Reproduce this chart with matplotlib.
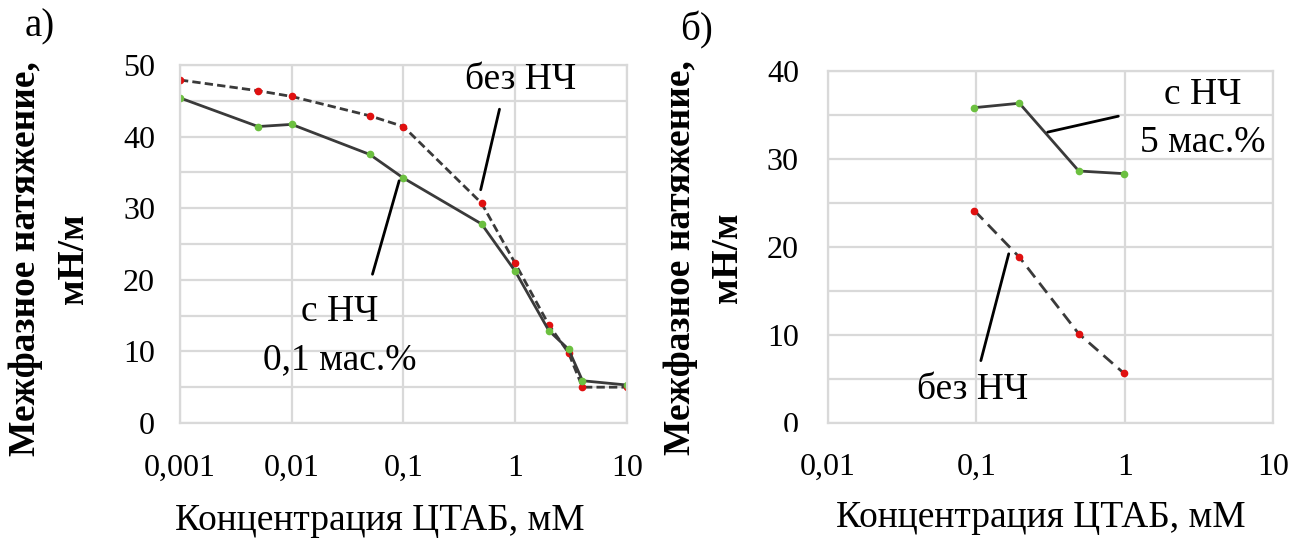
import numpy as np
import matplotlib
matplotlib.use("Agg")
import matplotlib.pyplot as plt
from matplotlib.patches import Rectangle
from matplotlib.ticker import FixedLocator, FuncFormatter, MultipleLocator

plt.rcParams["font.family"] = ["Liberation Serif", "DejaVu Serif"]

# а) CTAB concentration, mM, and interfacial tension, mN/m
conc_a = [0.001, 0.005, 0.01, 0.05, 0.1, 0.5, 1, 2, 3, 4, 10]
tension_a_no_np = [47.9, 46.4, 45.6, 42.9, 41.4, 30.7, 22.3, 13.7, 9.8, 5.0, 5.0]
tension_a_np = [45.4, 41.4, 41.7, 37.5, 34.2, 27.8, 21.2, 12.9, 10.3, 5.9, 5.3]

# б) same system, 5 wt.% nanoparticles
conc_b = [0.097, 0.195, 0.49, 0.99]
tension_b_np = [35.8, 36.3, 28.6, 28.3]
tension_b_no_np = [24.1, 18.8, 10.1, 5.6]

xticks_a = [0.001, 0.01, 0.1, 1, 10]
xticks_b = [0.01, 0.1, 1, 10]

grid_color = "#d9d9d9"
line_color = "#3a3a3a"
red = "#e01010"
green = "#6cc040"

ylabel = "Межфазное натяжение,\nмН/м"
xlabel = "Концентрация ЦТАБ, мМ"


def comma(v, pos):
    s = f"{v:g}"
    return s.replace(".", ",")


def style_axes(ax, xticks, ymax, ypad):
    ax.set_xscale("log")
    ax.set_xlim(xticks[0], xticks[-1])
    ax.set_ylim(0, ymax)
    ax.xaxis.set_major_locator(FixedLocator(xticks))
    ax.xaxis.set_minor_locator(FixedLocator([]))
    ax.xaxis.set_major_formatter(FuncFormatter(comma))
    ax.yaxis.set_major_locator(MultipleLocator(10))
    ax.yaxis.set_minor_locator(MultipleLocator(5))
    ax.grid(True, which="major", color=grid_color, lw=1.6)
    ax.grid(True, which="minor", axis="y", color=grid_color, lw=1.6)
    for s in ax.spines.values():
        s.set_color(grid_color)
        s.set_linewidth(1.6)
    ax.tick_params(which="both", length=0, labelsize=23)
    ax.tick_params(axis="x", pad=22)
    ax.tick_params(axis="y", pad=ypad)
    ax.set_axisbelow(True)
    ax.set_xlabel(xlabel, fontsize=27)
    ax.set_ylabel(ylabel, fontsize=27, fontweight="bold", linespacing=1.45)


fig = plt.figure(figsize=(12.9, 5.4), dpi=100)
ax1 = fig.add_axes([0.1395, 0.2167, 0.3465, 0.663])
ax2 = fig.add_axes([0.6419, 0.2172, 0.345, 0.6519])

# а)
style_axes(ax1, xticks_a, 50, 18)
ax1.plot(conc_a, tension_a_no_np, ls=(0, (3, 1.5)), color=line_color, lw=2,
         marker="o", ms=4.5, mfc=red, mec=red)
ax1.plot(conc_a, tension_a_np, ls="-", color=line_color, lw=2,
         marker="o", ms=4.5, mfc=green, mec=green)
ax1.xaxis.set_label_coords(0.447, -0.225)
ax1.yaxis.set_label_coords(-0.2, 0.458)

ax1.annotate("", xy=(0.485, 32.2), xytext=(0.733, 44.2),
             arrowprops=dict(arrowstyle="-", color="black", lw=2))
ax1.text(1.107, 47.9, "без НЧ", fontsize=27, ha="center", va="center")
ax1.annotate("", xy=(0.093, 34.2), xytext=(0.052, 20.4),
             arrowprops=dict(arrowstyle="-", color="black", lw=2))
ax1.text(0.027, 15.5, "с НЧ", fontsize=27, ha="center", va="center")
ax1.text(0.027, 8.85, "0,1 мас.%", fontsize=27, ha="center", va="center")

# б)
style_axes(ax2, xticks_b, 40, 21)
ax2.plot(conc_b, tension_b_np, ls="-", color=line_color, lw=2,
         marker="o", ms=4.5, mfc=green, mec=green)
ax2.plot(conc_b, tension_b_no_np, ls=(0, (4.5, 2.5)), color=line_color, lw=2,
         marker="o", ms=4.5, mfc=red, mec=red)
ax2.xaxis.set_label_coords(0.479, -0.22)
ax2.yaxis.set_label_coords(-0.187, 0.47)

ax2.annotate("", xy=(0.290, 32.95), xytext=(0.944, 34.9),
             arrowprops=dict(arrowstyle="-", color="black", lw=2))
ax2.text(3.37, 37.3, "с НЧ", fontsize=27, ha="center", va="center")
ax2.text(3.37, 31.8, "5 мас.%", fontsize=27, ha="center", va="center")
ax2.annotate("", xy=(0.167, 19.5), xytext=(0.106, 6.75),
             arrowprops=dict(arrowstyle="-", color="black", lw=2))
ax2.text(0.094, 3.8, "без НЧ", fontsize=27, ha="center", va="center")

# the lower half of the "0" label on б) is hidden
fig.add_artist(Rectangle((770 / 1290, 1 - 446 / 540), 40 / 1290, 14 / 540,
                         transform=fig.transFigure, color="white", zorder=10))

fig.text(40 / 1290, 1 - 27 / 540, "а)", fontsize=28, ha="center", va="center")
fig.text(697 / 1290, 1 - 30 / 540, "б)", fontsize=28, ha="center", va="center")

fig.savefig("out.png", dpi=100)
